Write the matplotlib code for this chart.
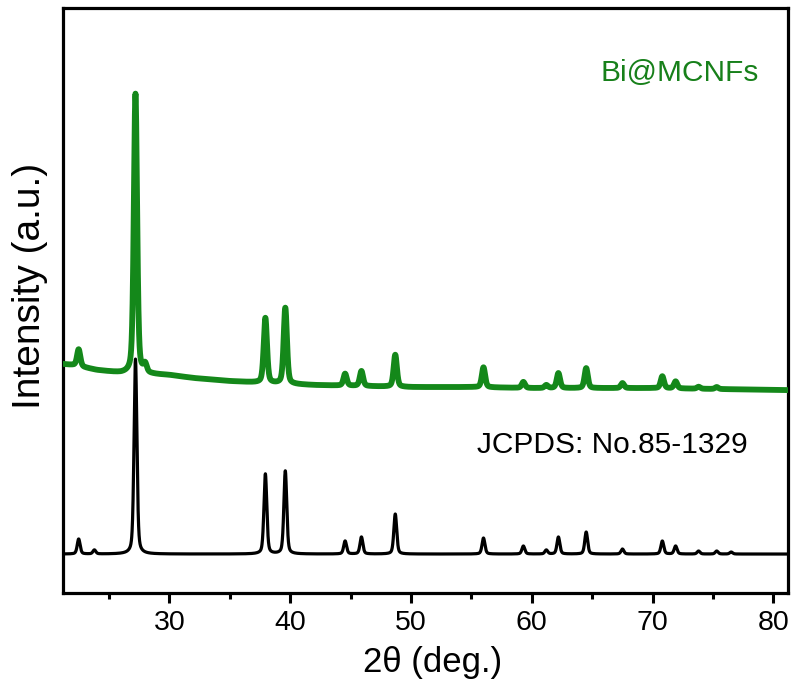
import numpy as np
import matplotlib
matplotlib.use('Agg')
from matplotlib import pyplot as plt
from matplotlib.ticker import MultipleLocator

plt.rcParams['font.family'] = ['Liberation Sans', 'DejaVu Sans']

# reference pattern (JCPDS 85-1329): peak position, peak height
ref_pos = [22.5, 23.8, 27.2, 37.95, 39.6, 44.55, 45.9, 48.7, 56.0, 59.3,
           61.2, 62.2, 64.5, 67.5, 70.8, 71.9, 73.8, 75.3, 76.5]
ref_h = [15, 4, 195, 80, 83, 13, 17, 40, 16, 8,
         4, 17, 22, 5, 13, 8, 3, 3, 2]

# Bi@MCNFs measured pattern: background points and peaks above it
bg_x = [21.2, 22.0, 24.0, 26.0, 28.0, 30.0, 32.0, 35.0, 38.0, 42.0,
        46.0, 50.0, 55.0, 60.0, 70.0, 81.2]
bg_y = [190, 189, 184, 181, 180, 179, 176, 173, 171, 169,
        168, 167, 167, 166, 166, 164]
bi_pos = [22.5, 27.2, 28.0, 37.95, 39.6, 44.55, 45.9, 48.7, 56.0, 59.3,
          61.2, 62.2, 64.5, 67.5, 70.8, 71.9, 73.8, 75.3]
bi_h = [17, 280, 8, 65, 76, 12, 15, 32, 20, 6,
        3, 15, 20, 5, 12, 7, 2, 2]

x = np.linspace(21.2, 81.2, 6001)


def profile(pos, h, w):
    # pseudo-Voigt peak shape for each read peak
    y = np.zeros_like(x)
    for p, a in zip(pos, h):
        g = np.exp(-4 * np.log(2) * ((x - p) / w) ** 2)
        l = 1 / (1 + 4 * ((x - p) / w) ** 2)
        y += a * (0.6 * g + 0.4 * l)
    return y


ref = profile(ref_pos, ref_h, 0.28)
bi = np.interp(x, bg_x, bg_y) + profile(bi_pos, bi_h, 0.32)

fig = plt.figure(figsize=(7.91, 6.84), dpi=100)
ax = fig.add_axes([0.0796, 0.133, 0.9166, 0.855])

ax.plot(x, ref, color='black', lw=2.3, zorder=2)
ax.plot(x, bi, color='#14881a', lw=4.2, zorder=3)

ax.set_xlim(21.2, 81.2)
ax.set_ylim(-39, 546)
ax.xaxis.set_major_locator(MultipleLocator(10))
ax.xaxis.set_minor_locator(MultipleLocator(5))
ax.set_yticks([])
ax.tick_params(axis='x', which='major', direction='out', length=7, width=2.2,
               labelsize=20.5, pad=5)
ax.tick_params(axis='x', which='minor', direction='out', length=4, width=2.2)
for s in ax.spines.values():
    s.set_linewidth(2.3)

ax.set_xlabel('2θ (deg.)', fontsize=25)
ax.set_ylabel('Intensity (a.u.)', fontsize=28)
ax.xaxis.set_label_coords(0.51, -0.09)
ax.yaxis.set_label_coords(-0.021, 0.525)

ax.text(0.96, 0.89, 'Bi@MCNFs', transform=ax.transAxes, color='#17801a',
        fontsize=21.5, ha='right', va='center')
ax.text(0.758, 0.253, 'JCPDS: No.85-1329', transform=ax.transAxes,
        color='black', fontsize=21.5, ha='center', va='center')

fig.savefig('out.png', dpi=100)
